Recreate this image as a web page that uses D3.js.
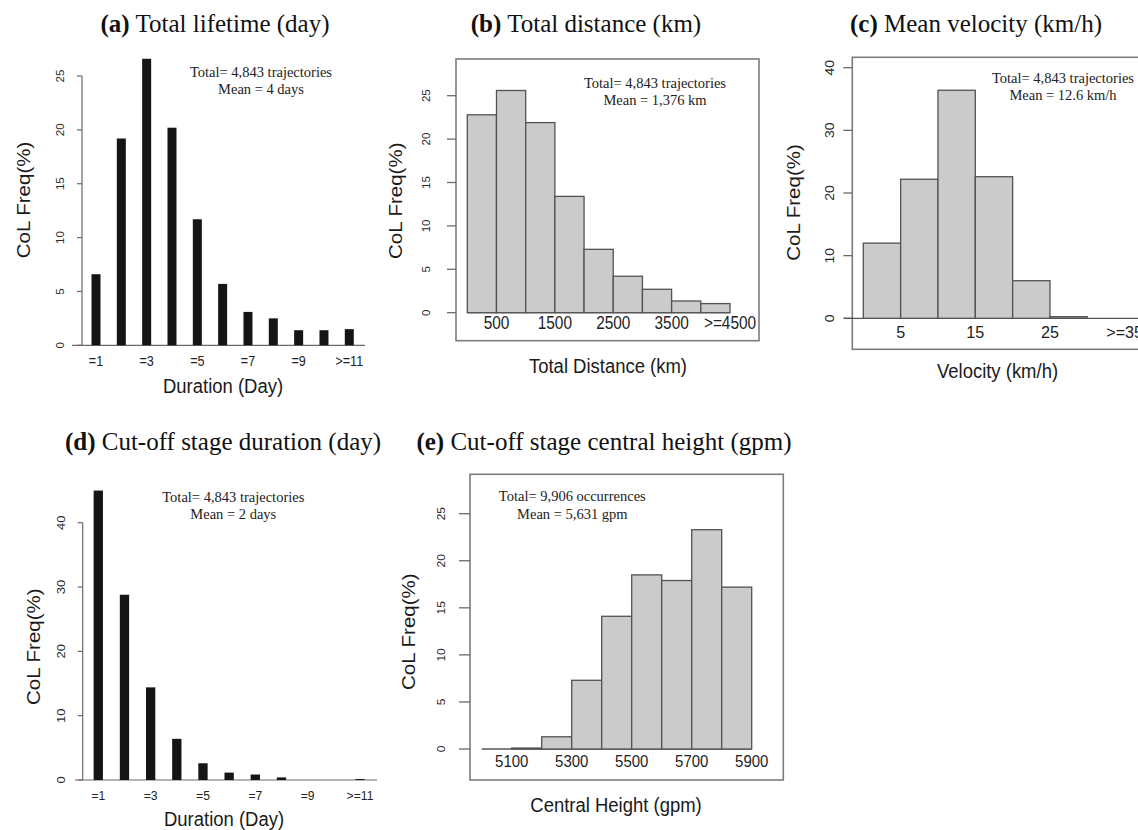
<!DOCTYPE html>
<html>
<head>
<meta charset="utf-8">
<script src="https://cdn.jsdelivr.net/npm/d3@7"></script>
<style>
  body { margin: 0; background: #fff; }
  svg { display: block; }
</style>
</head>
<body>
<svg id="fig" width="1138" height="830"></svg>
<script>
// ---- (a) Total lifetime (day) ----
const lifetimeDays = ["=1", "=2", "=3", "=4", "=5", "=6", "=7", "=8", "=9", "=10", ">=11"];
const lifetimeFreq = [6.6, 19.2, 26.6, 20.2, 11.7, 5.7, 3.1, 2.5, 1.4, 1.4, 1.5];
const dayTickLabels = ["=1", "=3", "=5", "=7", "=9", ">=11"];
const freqTicks25 = [0, 5, 10, 15, 20, 25];

// ---- (b) Total distance (km) ----
const distanceBinStart = [0, 500, 1000, 1500, 2000, 2500, 3000, 3500, 4000];
const distanceBinWidth = 500;
const distanceFreq = [22.8, 25.6, 21.9, 13.4, 7.3, 4.2, 2.7, 1.35, 1.05];
const distanceTicks = [500, 1500, 2500, 3500, 4500];
const distanceTickLabels = ["500", "1500", "2500", "3500", ">=4500"];

// ---- (c) Mean velocity (km/h) ----
const velocityBinStart = [0, 5, 10, 15, 20, 25];
const velocityBinWidth = 5;
const velocityFreq = [12.0, 22.2, 36.4, 22.6, 6.0, 0.25];
const velocityTicks = [5, 15, 25, 35];
const velocityTickLabels = ["5", "15", "25", ">=35"];
const freqTicks40 = [0, 10, 20, 30, 40];

// ---- (d) Cut-off stage duration (day) ----
const cutoffDays = ["=1", "=2", "=3", "=4", "=5", "=6", "=7", "=8", "=9", "=10", ">=11"];
const cutoffFreq = [45.0, 28.8, 14.4, 6.4, 2.6, 1.15, 0.85, 0.4, 0, 0, 0.15];

// ---- (e) Cut-off stage central height (gpm) ----
const heightBinStart = [5000, 5100, 5200, 5300, 5400, 5500, 5600, 5700, 5800];
const heightBinWidth = 100;
const heightFreq = [0, 0.1, 1.3, 7.3, 14.1, 18.5, 17.9, 23.3, 17.2];
const heightTicks = [5100, 5300, 5500, 5700, 5900];
const heightTickLabels = ["5100", "5300", "5500", "5700", "5900"];

// ---- panel titles and notes ----
const panelTitles = [
  ["(a)", " Total lifetime (day)"],
  ["(b)", " Total distance (km)"],
  ["(c)", " Mean velocity (km/h)"],
  ["(d)", " Cut-off stage duration (day)"],
  ["(e)", " Cut-off stage central height (gpm)"]
];
const panelNotes = [
  ["Total= 4,843 trajectories", "Mean = 4 days"],
  ["Total= 4,843 trajectories", "Mean = 1,376 km"],
  ["Total= 4,843 trajectories", "Mean = 12.6 km/h"],
  ["Total= 4,843 trajectories", "Mean = 2 days"],
  ["Total= 9,906 occurrences", "Mean = 5,631 gpm"]
];
const yAxisTitle = "CoL Freq(%)";
const xAxisTitles = ["Duration (Day)", "Total Distance (km)", "Velocity (km/h)", "Duration (Day)", "Central Height (gpm)"];

const SANS = "'Liberation Sans', Arial, Helvetica, sans-serif";
const SERIF = "'Liberation Serif', 'Times New Roman', Times, serif";
const INK = "#1a1a1a";

const svg = d3.select("#fig");

// Text helper: horizontal squeeze (sx) applied in screen space, optional -90 rotation
function label(g, str, x, y, o) {
  return g.append("text")
    .attr("transform", `translate(${x},${y}) scale(${o.sx || 1},1)` + (o.rot ? " rotate(-90)" : ""))
    .attr("text-anchor", o.anchor || "middle")
    .attr("font-family", o.family || SANS)
    .attr("font-size", o.size)
    .attr("fill", o.fill || INK)
    .text(str);
}

function title(idx, cx, base) {
  const t = svg.append("text")
    .attr("x", cx).attr("y", base)
    .attr("text-anchor", "middle")
    .attr("font-family", SERIF)
    .attr("font-size", 25)
    .attr("fill", "#111");
  t.append("tspan").attr("font-weight", "bold").text(panelTitles[idx][0]);
  t.append("tspan").text(panelTitles[idx][1]);
}

function notes(idx, cx, b1, b2) {
  label(svg, panelNotes[idx][0], cx, b1, { family: SERIF, size: 14.5, fill: "#222" });
  label(svg, panelNotes[idx][1], cx, b2, { family: SERIF, size: 14.5, fill: "#222" });
}

// Narrow black columns with a category axis (panels a, d)
function columnPanel(c) {
  const g = svg.append("g");
  const y = d3.scaleLinear().domain([0, c.yTopVal]).range([c.y0, c.yTopPx]);
  const x = d3.scalePoint().domain(c.cats).range([c.xFirst, c.xLast]);

  // y axis
  g.append("line").attr("x1", c.axisX).attr("x2", c.axisX)
    .attr("y1", y(0)).attr("y2", y(c.yTopVal))
    .attr("stroke", "#6a6a6a").attr("stroke-width", 1.2);
  c.yTicks.forEach(v => {
    g.append("line").attr("x1", c.axisX - 5).attr("x2", c.axisX)
      .attr("y1", y(v)).attr("y2", y(v))
      .attr("stroke", "#6a6a6a").attr("stroke-width", 1.2);
    label(g, String(v), c.yLabX, y(v), { size: c.yTickSize, rot: true, sx: 0.9, fill: "#2a2a2a" });
  });

  // baseline
  g.append("line").attr("x1", c.baseX1).attr("x2", c.baseX2)
    .attr("y1", y(0)).attr("y2", y(0))
    .attr("stroke", "#6a6a6a").attr("stroke-width", 1.2);

  // columns
  g.selectAll("rect.col").data(c.values).enter().append("rect")
    .attr("class", "col")
    .attr("x", (d, i) => x(c.cats[i]) - c.barW / 2)
    .attr("width", c.barW)
    .attr("y", d => y(d))
    .attr("height", d => y(0) - y(d))
    .attr("fill", "#151515");

  // category labels
  c.xLabels.forEach(s => {
    label(g, s, x(s), c.xLabY, { size: c.xTickSize, sx: 0.9, fill: "#222" });
  });

  label(g, c.xTitle, c.xTitleX, c.xTitleY, { size: 21, sx: 0.88 });
  label(g, yAxisTitle, c.yTitleX, c.yTitleY, { size: 20.5, rot: true, sx: 0.9 });
}

// Boxed grey histogram with a numeric axis (panels b, c, e)
function histPanel(c) {
  const g = svg.append("g");
  const x = d3.scaleLinear().domain(c.xDomain).range(c.xRange);
  const y = d3.scaleLinear().domain([0, c.yTopVal]).range([c.y0, c.yTopPx]);

  // frame
  g.append("rect").attr("x", c.box[0]).attr("y", c.box[1])
    .attr("width", c.box[2] - c.box[0]).attr("height", c.box[3] - c.box[1])
    .attr("fill", "none").attr("stroke", "#7c7c7c").attr("stroke-width", 1.6);

  // y ticks
  c.yTicks.forEach(v => {
    g.append("line").attr("x1", c.box[0] - c.tickLen).attr("x2", c.box[0])
      .attr("y1", y(v)).attr("y2", y(v))
      .attr("stroke", "#6a6a6a").attr("stroke-width", 1.3);
    label(g, String(v), c.yLabX, y(v), { size: c.yTickSize, rot: true, sx: 0.9, fill: "#2a2a2a" });
  });

  // baseline
  g.append("line").attr("x1", c.baseX1).attr("x2", c.baseX2)
    .attr("y1", y(0)).attr("y2", y(0))
    .attr("stroke", "#555").attr("stroke-width", 1.3);

  // bins
  g.selectAll("rect.bin").data(c.values).enter().append("rect")
    .attr("class", "bin")
    .attr("x", (d, i) => x(c.starts[i]))
    .attr("width", (d, i) => x(c.starts[i] + c.binW) - x(c.starts[i]))
    .attr("y", d => y(d))
    .attr("height", d => y(0) - y(d))
    .attr("fill", "#cbcbcb")
    .attr("stroke", "#525252").attr("stroke-width", 1.3);

  // x tick labels
  c.xTicks.forEach((v, i) => {
    label(g, c.xTickLabels[i], x(v), c.xLabY, { size: c.xTickSize, sx: c.xTickSx, fill: "#222" });
  });

  label(g, c.xTitle, c.xTitleX, c.xTitleY, { size: 21, sx: 0.88 });
  label(g, yAxisTitle, c.yTitleX, c.yTitleY, { size: 20.5, rot: true, sx: 0.9 });
}

// (a)
title(0, 215, 31.7);
columnPanel({
  cats: lifetimeDays, values: lifetimeFreq, xLabels: dayTickLabels,
  yTopVal: 25, y0: 345.3, yTopPx: 76, yTicks: freqTicks25,
  axisX: 82, yLabX: 64, yTickSize: 11.5,
  xFirst: 96, xLast: 349.3, barW: 9, baseX1: 72, baseX2: 365,
  xLabY: 366, xTickSize: 14,
  xTitle: xAxisTitles[0], xTitleX: 223, xTitleY: 393,
  yTitleX: 30, yTitleY: 200
});
notes(0, 261, 77.3, 94.3);

// (b)
title(1, 586, 31.7);
histPanel({
  box: [456, 59, 759, 340.7], tickLen: 9,
  xDomain: [0, 4500], xRange: [467.3, 730],
  yTopVal: 25, y0: 312.7, yTopPx: 95.7, yTicks: freqTicks25,
  yLabX: 430, yTickSize: 11.5,
  starts: distanceBinStart, binW: distanceBinWidth, values: distanceFreq,
  baseX1: 467.3, baseX2: 730,
  xTicks: distanceTicks, xTickLabels: distanceTickLabels, xLabY: 329.3, xTickSize: 17.5, xTickSx: 0.88,
  xTitle: xAxisTitles[1], xTitleX: 608, xTitleY: 373.3,
  yTitleX: 402, yTitleY: 200.8
});
notes(1, 655, 88.3, 105);

// (c)
title(2, 976, 31.7);
histPanel({
  box: [852.3, 57.3, 1150, 349.3], tickLen: 9,
  xDomain: [0, 30], xRange: [863.3, 1087.3],
  yTopVal: 40, y0: 318.3, yTopPx: 67.7, yTicks: freqTicks40,
  yLabX: 834, yTickSize: 14,
  starts: velocityBinStart, binW: velocityBinWidth, values: velocityFreq,
  baseX1: 844, baseX2: 1138,
  xTicks: velocityTicks, xTickLabels: velocityTickLabels, xLabY: 338.3, xTickSize: 17, xTickSx: 0.95,
  xTitle: xAxisTitles[2], xTitleX: 997.5, xTitleY: 378.3,
  yTitleX: 800, yTitleY: 202.5
});
notes(2, 1063, 83.3, 100);

// (d)
title(3, 223, 450);
columnPanel({
  cats: cutoffDays, values: cutoffFreq, xLabels: dayTickLabels,
  yTopVal: 40, y0: 780, yTopPx: 522.7, yTicks: freqTicks40,
  axisX: 82.7, yLabX: 65, yTickSize: 13,
  xFirst: 98.3, xLast: 360, barW: 9.3, baseX1: 75, baseX2: 377,
  xLabY: 800, xTickSize: 13.5,
  xTitle: xAxisTitles[3], xTitleX: 224, xTitleY: 825.5,
  yTitleX: 40, yTitleY: 646.7
});
notes(3, 233.3, 502.3, 519);

// (e)
title(4, 604, 450);
histPanel({
  box: [470, 474.3, 783.3, 780], tickLen: 11,
  xDomain: [5000, 5900], xRange: [481.7, 751.7],
  yTopVal: 25, y0: 749, yTopPx: 513.7, yTicks: freqTicks25,
  yLabX: 445, yTickSize: 12,
  starts: heightBinStart, binW: heightBinWidth, values: heightFreq,
  baseX1: 481.7, baseX2: 751.7,
  xTicks: heightTicks, xTickLabels: heightTickLabels, xLabY: 766.7, xTickSize: 17, xTickSx: 0.88,
  xTitle: xAxisTitles[4], xTitleX: 616, xTitleY: 811.7,
  yTitleX: 415, yTitleY: 631.7
});
notes(4, 572.3, 500.7, 519);
</script>
</body>
</html>
